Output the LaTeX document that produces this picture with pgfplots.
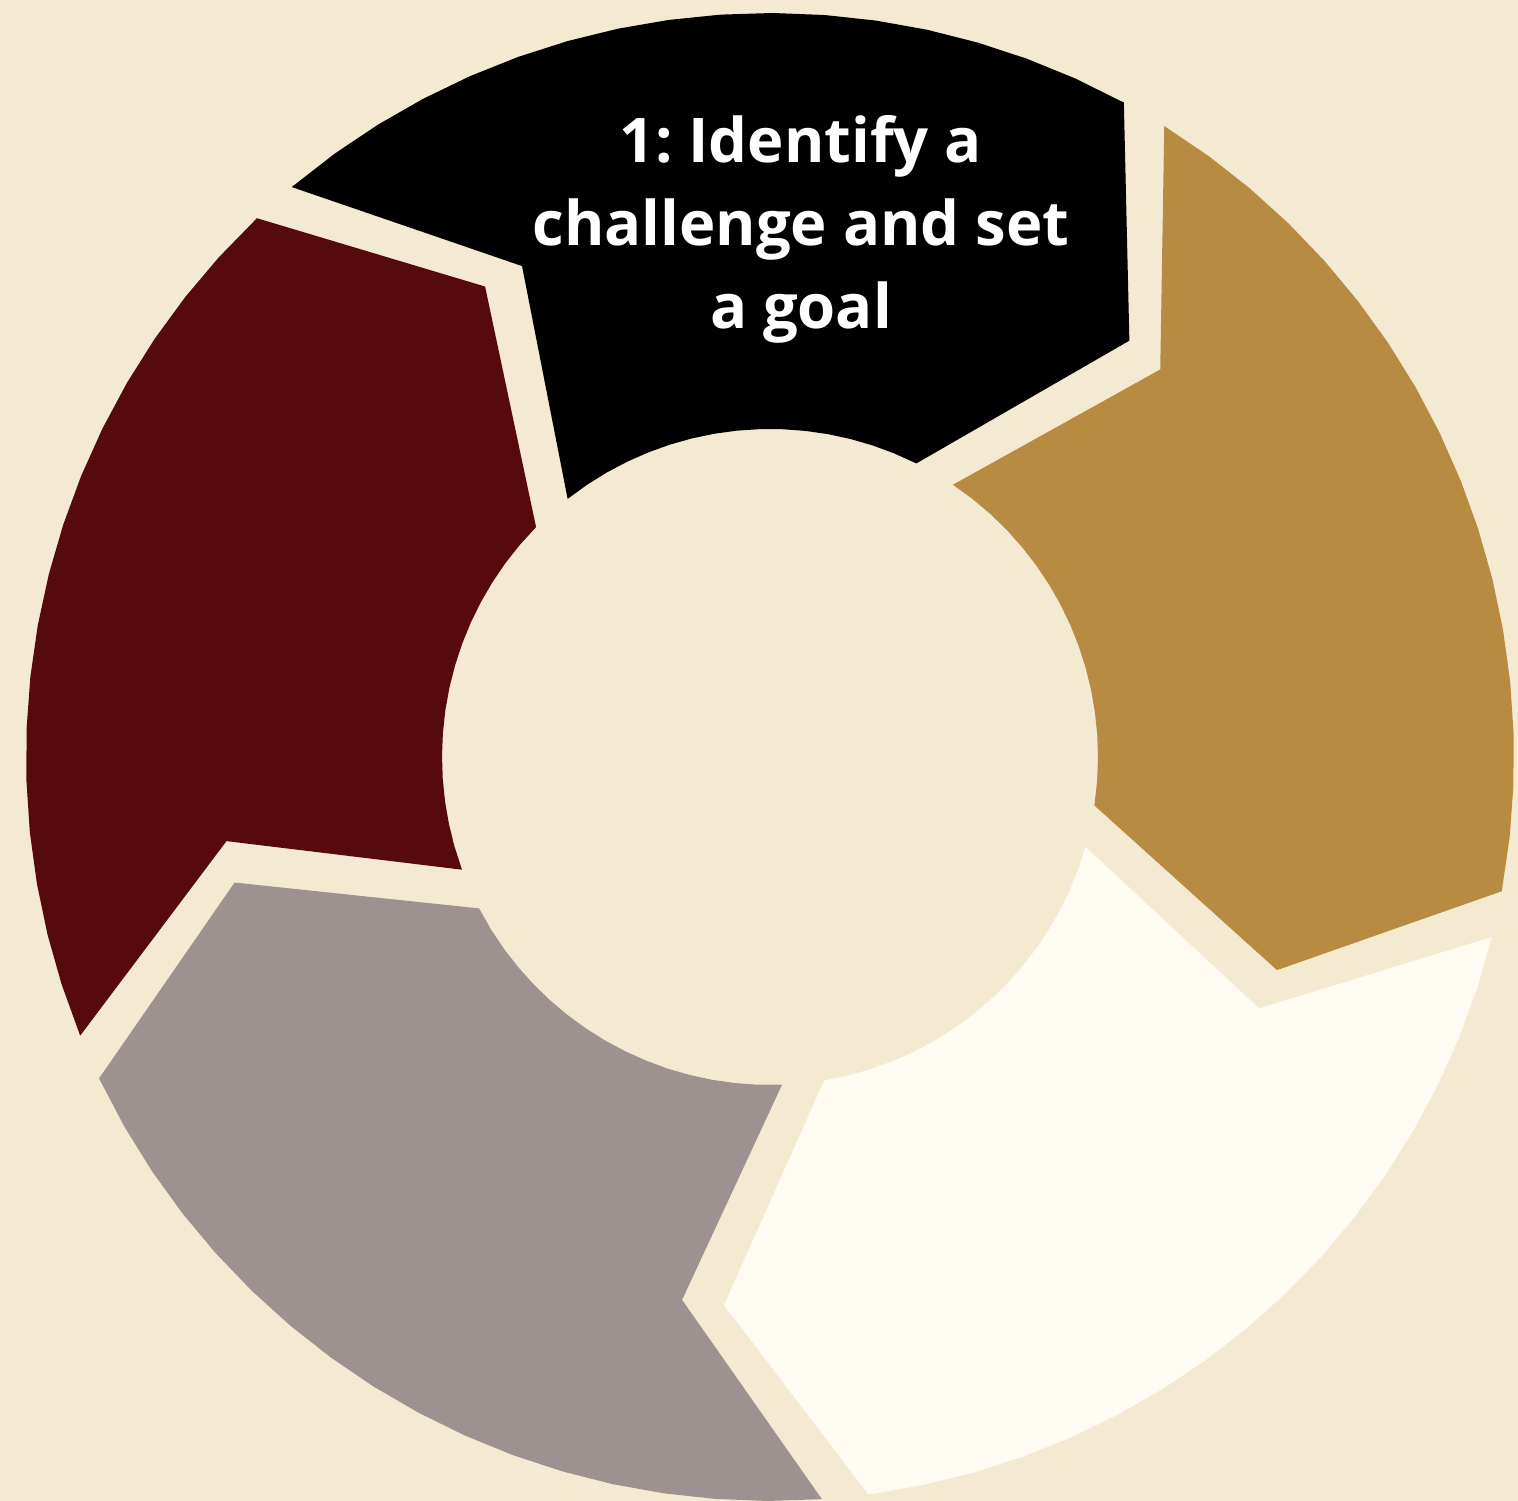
\documentclass[border=0pt]{standalone}
\usepackage{pgfplots}
\pgfplotsset{compat=1.18}
\usepackage{fontspec}
\setmainfont{Open Sans}
\frenchspacing
\definecolor{bgc}{HTML}{F4EAD1}
\definecolor{segblack}{HTML}{000000}
\definecolor{segred}{HTML}{560A0B}
\definecolor{seggray}{HTML}{9C9290}
\definecolor{segcream}{HTML}{FEFBF2}
\definecolor{seggold}{HTML}{B78B42}
\begin{document}
\begin{tikzpicture}
\begin{axis}[
  x=0.01cm, y=0.01cm,
  xmin=-770, xmax=748, ymin=-744, ymax=757,
  hide axis, clip=false,
]
\fill[bgc] (rel axis cs:0,0) rectangle (rel axis cs:1,1);
% segment 1 (black)
\addplot[fill=segblack, draw=none, data cs=polar] coordinates {
(61.6,744)(65.8,744)(69.8,744)(73.8,744)(77.8,744)(81.8,744)(85.8,744)(89.8,744)(93.8,744)(97.8,744)(101.8,744)(105.8,744)(109.8,744)(113.8,744)(117.8,744)(121.8,744)(125.8,744)(130.0,744)
(116.8,550)
(128.1,328)(123.8,328)(119.8,328)(115.8,328)(111.8,328)(107.8,328)(103.8,328)(99.8,328)(95.8,328)(91.8,328)(87.8,328)(83.8,328)(79.8,328)(75.8,328)(71.8,328)(67.8,328)(63.5,328)
(49.2,550)
} -- cycle;
% segment (dark red)
\addplot[fill=segred, draw=none, data cs=polar] coordinates {
(133.6,744)(137.8,744)(141.8,744)(145.8,744)(149.8,744)(153.8,744)(157.8,744)(161.8,744)(165.8,744)(169.8,744)(173.8,744)(177.8,744)(181.8,744)(185.8,744)(189.8,744)(193.8,744)(197.8,744)(202.0,744)
(188.8,550)
(200.1,328)(195.8,328)(191.8,328)(187.8,328)(183.8,328)(179.8,328)(175.8,328)(171.8,328)(167.8,328)(163.8,328)(159.8,328)(155.8,328)(151.8,328)(147.8,328)(143.8,328)(139.8,328)(135.5,328)
(121.2,550)
} -- cycle;
% segment (gray)
\addplot[fill=seggray, draw=none, data cs=polar] coordinates {
(205.6,744)(209.8,744)(213.8,744)(217.8,744)(221.8,744)(225.8,744)(229.8,744)(233.8,744)(237.8,744)(241.8,744)(245.8,744)(249.8,744)(253.8,744)(257.8,744)(261.8,744)(265.8,744)(269.8,744)(274.0,744)
(260.8,550)
(272.1,328)(267.8,328)(263.8,328)(259.8,328)(255.8,328)(251.8,328)(247.8,328)(243.8,328)(239.8,328)(235.8,328)(231.8,328)(227.8,328)(223.8,328)(219.8,328)(215.8,328)(211.8,328)(207.5,328)
(193.2,550)
} -- cycle;
% segment (cream)
\addplot[fill=segcream, draw=none, data cs=polar] coordinates {
(277.6,744)(281.8,744)(285.8,744)(289.8,744)(293.8,744)(297.8,744)(301.8,744)(305.8,744)(309.8,744)(313.8,744)(317.8,744)(321.8,744)(325.8,744)(329.8,744)(333.8,744)(337.8,744)(341.8,744)(346.0,744)
(332.8,550)
(344.1,328)(339.8,328)(335.8,328)(331.8,328)(327.8,328)(323.8,328)(319.8,328)(315.8,328)(311.8,328)(307.8,328)(303.8,328)(299.8,328)(295.8,328)(291.8,328)(287.8,328)(283.8,328)(279.5,328)
(265.2,550)
} -- cycle;
% segment (gold)
\addplot[fill=seggold, draw=none, data cs=polar] coordinates {
(349.6,744)(353.8,744)(357.8,744)(361.8,744)(365.8,744)(369.8,744)(373.8,744)(377.8,744)(381.8,744)(385.8,744)(389.8,744)(393.8,744)(397.8,744)(401.8,744)(405.8,744)(409.8,744)(413.8,744)(418.0,744)
(404.8,550)
(416.1,328)(411.8,328)(407.8,328)(403.8,328)(399.8,328)(395.8,328)(391.8,328)(387.8,328)(383.8,328)(379.8,328)(375.8,328)(371.8,328)(367.8,328)(363.8,328)(359.8,328)(355.8,328)(351.5,328)
(337.2,550)
} -- cycle;
\node[align=center, text=white, font=\fontsize{17.5}{23.6}\selectfont\bfseries]
  at (axis cs:31,528) {1: Identify a\\challenge and set\\a goal};
\end{axis}
\end{tikzpicture}
\end{document}
